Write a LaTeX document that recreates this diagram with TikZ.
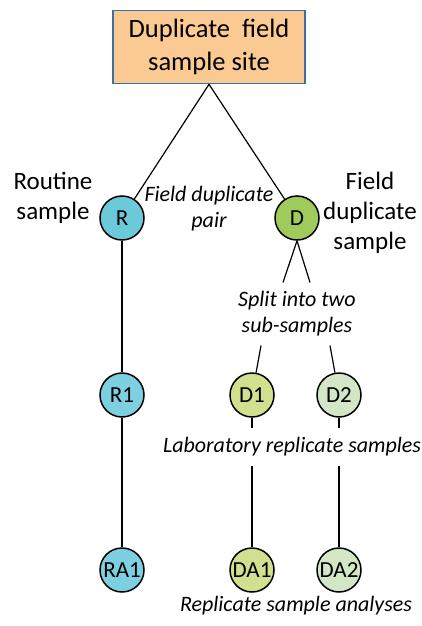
\documentclass[tikz,border=0pt]{standalone}
\usepackage{fontspec}
\setmainfont{Carlito}
\usepackage{tikz}
\usetikzlibrary{calc}
\definecolor{siteorange}{HTML}{FBCA92}
\definecolor{siteblue}{HTML}{3C6E9E}
\definecolor{rblue}{HTML}{6CC9D9}
\definecolor{rlight}{HTML}{7DD0E0}
\definecolor{dgreen}{HTML}{9ECB5B}
\definecolor{done}{HTML}{D1E08F}
\definecolor{dtwo}{HTML}{D3E6C6}
\tikzset{smp/.style={circle,draw,line width=1.5pt,minimum size=44pt,inner sep=0pt,font=\fontsize{23}{27}\selectfont},
  lbl/.style={align=center,font=\fontsize{25}{30}\selectfont},
  note/.style={align=center,font=\fontsize{22}{26}\selectfont\itshape}}

\begin{document}
\begin{tikzpicture}[x=1pt,y=-1pt,line width=1.2pt]
                      \useasboundingbox (0,0) rectangle (422,626);
                      \node [draw=siteblue, fill=siteorange, line width=1.6pt, minimum width=192pt, minimum height=73pt, align=center, font=\fontsize{26.5}{33}\selectfont] (site) at (209,47) {Duplicate\ \ field\\sample site};
                      \node [smp, fill=rblue] (R) at (122,218) {R};
                      \node [smp, fill=dgreen] (D) at (297,218) {D};
                      \node [smp, fill=rlight] (R1) at (122,395) {R1};
                      \node [smp, fill=done] (D1) at (252,395) {D1};
                      \node [smp, fill=dtwo] (D2) at (339,395) {D2};
                      \node [smp, fill=rlight] (RA1) at (122,570) {RA1};
                      \node [smp, fill=done] (DA1) at (252,570) {DA1};
                      \node [smp, fill=dtwo] (DA2) at (339,570) {DA2};
                      \node [lbl] (routine) at (53,198) {Routine\\sample};
                      \node [lbl] (field) at (370,213) {Field\\duplicate\\sample};
                      \node [note] (pair) at (209,209) {Field duplicate\\pair};
                      \node [note, inner sep=8.5pt] (split) at (297,314) {Split into two\\sub-samples};
                      \node [note, inner sep=9pt] (lab) at (292,447) {Laboratory replicate samples};
                      \node [note] (ana) at (296,606) {Replicate sample analyses};
                      \draw (site.south) -- (R);
                      \draw (site.south) -- (D);
                      \draw (R) -- (R1) -- (RA1);
                      \draw (D.south) -- ([xshift=-14pt]split.north);
                      \draw (D.south) -- ([xshift=13pt]split.north);
                      \draw ([xshift=-36pt]split.south) -- (D1);
                      \draw ([xshift=33pt]split.south) -- (D2);
                      \draw (D1) -- (D1 |- lab.north);
                      \draw (D1 |- lab.south) -- (DA1);
                      \draw (D2) -- (D2 |- lab.north);
                      \draw (D2 |- lab.south) -- (DA2);
                  \end{tikzpicture}
\end{document}
